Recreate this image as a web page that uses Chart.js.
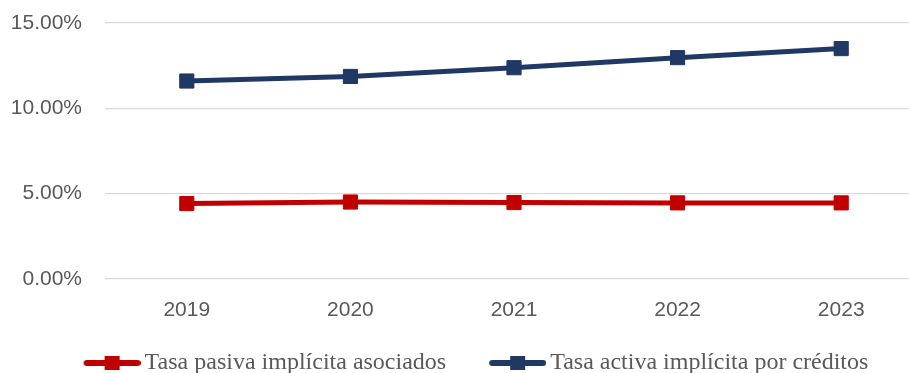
<!DOCTYPE html>
<html>
<head>
<meta charset="utf-8">
<script src="https://cdn.jsdelivr.net/npm/chart.js@4"></script>
<style>
  html, body { margin: 0; padding: 0; background: #fff; overflow: hidden; }
  #wrap { width: 909px; height: 373px; overflow: hidden; }
  #myChart { display: block; width: 923px; height: 373px; }
</style>
</head>
<body>
<div id="wrap"><canvas id="myChart" width="923" height="373"></canvas></div>
<script>
const years = ["2019", "2020", "2021", "2022", "2023"];
const tasaPasiva = [4.42, 4.51, 4.48, 4.46, 4.46];
const tasaActiva = [11.6, 11.87, 12.38, 12.97, 13.5];
const yTicks = [0, 5, 10, 15];

const rojo = "#C00000";
const azul = "#203864";
const gris = "#595959";

// icono de leyenda: linea gruesa con el cuadrado en medio,
// pegado a la derecha para que quede junto al texto
function iconoLeyenda(color) {
  const c = document.createElement("canvas");
  c.width = 82;
  c.height = 16;
  const g = c.getContext("2d");
  g.strokeStyle = color;
  g.lineWidth = 6;
  g.lineCap = "round";
  g.beginPath();
  g.moveTo(28, 8);
  g.lineTo(79, 8);
  g.stroke();
  g.fillStyle = color;
  g.fillRect(46, 1, 15, 14);
  return c;
}

// la leyenda del original esta algo corrida a la derecha
const moverLeyenda = {
  id: "moverLeyenda",
  afterLayout(chart) {
    chart.legend.left += 6;
    chart.legend.right += 6;
  },
};

const ctx = document.getElementById("myChart").getContext("2d");

new Chart(ctx, {
  type: "line",
  data: {
    labels: years,
    datasets: [
      {
        label: "Tasa pasiva implícita asociados",
        data: tasaPasiva,
        borderColor: rojo,
        backgroundColor: rojo,
        borderWidth: 5,
        pointStyle: "rect",
        pointRadius: 10,
        pointBorderWidth: 1,
        tension: 0,
      },
      {
        label: "Tasa activa implícita por créditos",
        data: tasaActiva,
        borderColor: azul,
        backgroundColor: azul,
        borderWidth: 5,
        pointStyle: "rect",
        pointRadius: 10,
        pointBorderWidth: 1,
        tension: 0,
      },
    ],
  },
  plugins: [moverLeyenda],
  options: {
    responsive: false,
    animation: false,
    layout: { autoPadding: false, padding: { top: 23, left: 0, right: 0, bottom: -12 } },
    plugins: {
      tooltip: { enabled: false },
      legend: {
        position: "bottom",
        labels: {
          usePointStyle: true,
          pointStyleWidth: 66,
          padding: 26,
          color: gris,
          font: { family: "'Liberation Serif', 'Times New Roman', serif", size: 24 },
          generateLabels: (chart) =>
            Chart.defaults.plugins.legend.labels.generateLabels(chart).map((item) => ({
              ...item,
              pointStyle: iconoLeyenda(chart.data.datasets[item.datasetIndex].borderColor),
            })),
        },
      },
    },
    scales: {
      x: {
        offset: true,
        grid: { display: false },
        border: { display: false },
        ticks: {
          color: gris,
          padding: 11,
          font: { family: "'Liberation Sans', Arial, sans-serif", size: 21 },
        },
        afterFit: (s) => {
          s.height = 46;
          s.paddingLeft = 0;
          s.paddingRight = 0;
        },
      },
      y: {
        min: yTicks[0],
        max: yTicks[yTicks.length - 1],
        afterBuildTicks: (s) => { s.ticks = yTicks.map((v) => ({ value: v })); },
        grid: { color: "#d9d9d9", lineWidth: 1.3, drawTicks: false },
        border: { display: false },
        ticks: {
          color: gris,
          padding: 23,
          font: { family: "'Liberation Sans', Arial, sans-serif", size: 21 },
          callback: (v) => v.toFixed(2) + "%",
        },
        afterFit: (s) => {
          s.width = 105;
          s.paddingTop = 0;
          s.paddingBottom = 0;
        },
      },
    },
  },
});
</script>
</body>
</html>
